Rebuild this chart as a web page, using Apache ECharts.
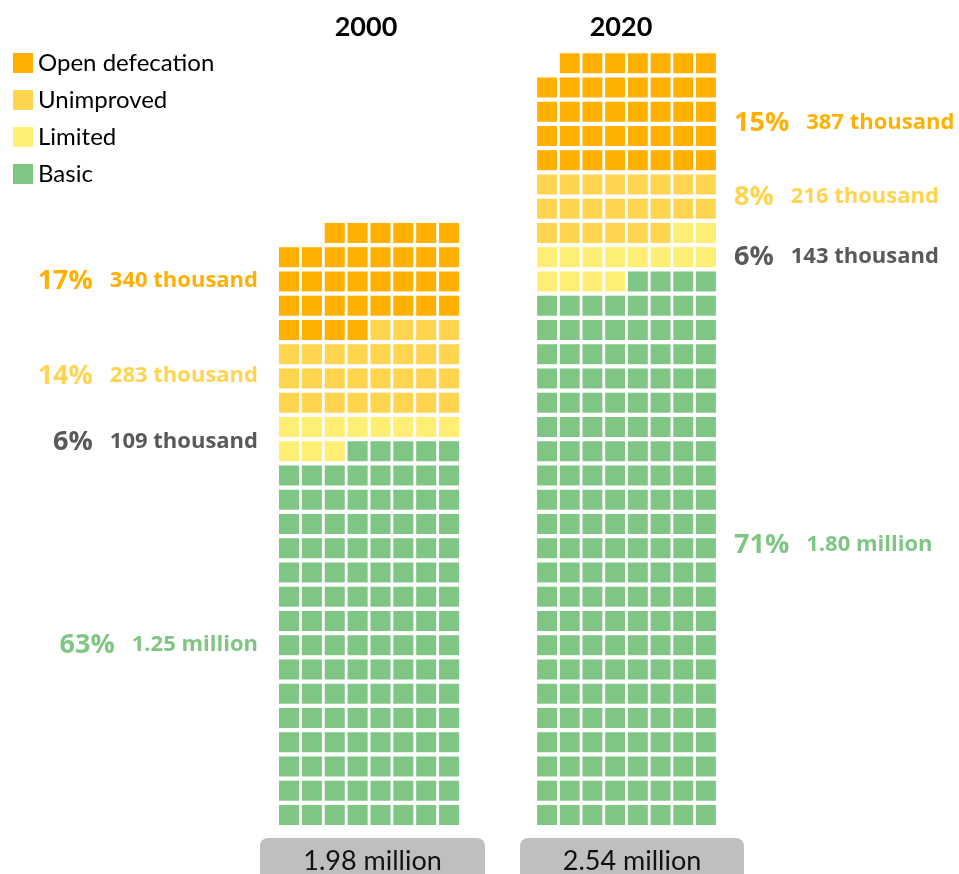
<!DOCTYPE html>
<html>
<head>
<meta charset="utf-8">
<title>Sanitation service levels, 2000 and 2020</title>
<script src="https://cdn.jsdelivr.net/npm/echarts@6/dist/echarts.min.js"></script>
<style>
  html, body { margin: 0; padding: 0; background: #ffffff; }
  #chart { width: 959px; height: 874px; }
</style>
</head>
<body>
<div id="chart"></div>
<script>
// Population by sanitation service level (thousands of people)
const years = ['2000', '2020'];
const categories = ['Basic', 'Limited', 'Unimproved', 'Open defecation'];
const basic = [1250, 1800];
const limited = [109, 143];
const unimproved = [283, 216];
const openDefecation = [340, 387];
// Share of population (%)
const basicPct = [63, 71];
const limitedPct = [6, 6];
const unimprovedPct = [14, 8];
const openDefecationPct = [17, 15];
// Total population labels
const totalLabels = ['1.98 million', '2.54 million'];

const PER_SQUARE = 10;      // thousand people per square
const COLS = 8;             // squares per row
const ROWS = 32;            // row capacity of the y scale

const colors = {
  'Basic': '#7FC685',
  'Limited': '#FFEE74',
  'Unimproved': '#FFD44F',
  'Open defecation': '#FFB000'
};
const labelColors = {
  'Basic': '#7FC685',
  'Limited': '#595959',
  'Unimproved': '#FFD44F',
  'Open defecation': '#FFB000'
};

const valuesByCat = {
  'Basic': basic,
  'Limited': limited,
  'Unimproved': unimproved,
  'Open defecation': openDefecation
};
const pctByCat = {
  'Basic': basicPct,
  'Limited': limitedPct,
  'Unimproved': unimprovedPct,
  'Open defecation': openDefecationPct
};

const FONT = 'Lato, "Open Sans", sans-serif';
const LABEL_FONT = '"Open Sans", Lato, sans-serif';

function formatValue(v) {
  return v >= 1000 ? (v / 1000).toFixed(2) + ' million' : v + ' thousand';
}

// Lay squares out bottom-up, each row filled from right to left
function buildCells(yearIdx) {
  const out = {};
  let i = 0;
  categories.forEach(function (cat) {
    const n = Math.round(valuesByCat[cat][yearIdx] / PER_SQUARE);
    out[cat] = [];
    for (let k = 0; k < n; k++, i++) {
      const row = Math.floor(i / COLS);
      const col = COLS - 1 - (i % COLS);
      out[cat].push([col, row]);
    }
  });
  return out;
}

const GAP_X = 2.8, GAP_Y = 4.25;
function renderSquare(params, api) {
  const c = api.coord([api.value(0) + 0.5, api.value(1) + 0.5]);
  const cell = api.size([1, 1]);
  const w = cell[0] - GAP_X, h = cell[1] - GAP_Y;
  return {
    type: 'rect',
    shape: { x: c[0] - w / 2, y: c[1] - h / 2, width: w, height: h },
    style: { fill: api.visual('color') }
  };
}

const grids = [
  { left: 277.6, top: 51.1, width: 182.9, height: 776 },
  { left: 535.7, top: 51.1, width: 181.6, height: 776 }
];

const series = [];
years.forEach(function (y, yi) {
  const cells = buildCells(yi);
  categories.forEach(function (cat) {
    series.push({
      type: 'custom',
      name: cat,
      xAxisIndex: yi,
      yAxisIndex: yi,
      itemStyle: { color: colors[cat] },
      renderItem: renderSquare,
      data: cells[cat],
      silent: true,
      animation: false
    });
  });
});

// Category annotations beside each column
const labelLayout = [
  { x: 258, align: 'right', y: { 'Open defecation': 281, 'Unimproved': 376, 'Limited': 442, 'Basic': 645 } },
  { x: 734, align: 'left',  y: { 'Open defecation': 123, 'Unimproved': 197, 'Limited': 257, 'Basic': 545 } }
];
const graphics = [];
years.forEach(function (yr, yi) {
  const lay = labelLayout[yi];
  categories.forEach(function (cat) {
    const col = labelColors[cat];
    graphics.push({
      type: 'text',
      x: lay.x,
      y: lay.y[cat],
      style: {
        text: '{p|' + pctByCat[cat][yi] + '%}{s|}{v|' + formatValue(valuesByCat[cat][yi]) + '}',
        align: lay.align,
        verticalAlign: 'middle',
        rich: {
          p: { fontFamily: LABEL_FONT, fontWeight: 'bold', fontSize: 27, fill: col, color: col },
          s: { width: 17 },
          v: { fontFamily: LABEL_FONT, fontWeight: 'bold', fontSize: 22, fill: col, color: col }
        }
      }
    });
  });
});

// Year headings
const headX = [366, 621];
years.forEach(function (yr, yi) {
  graphics.push({
    type: 'text',
    x: headX[yi],
    y: 27,
    style: {
      text: yr,
      align: 'center',
      verticalAlign: 'middle',
      font: 'bold 27px ' + FONT,
      fill: '#000000'
    }
  });
});

// Total population boxes
const boxes = [
  { x: 260, w: 225 },
  { x: 520, w: 224 }
];
years.forEach(function (yr, yi) {
  const b = boxes[yi];
  graphics.push({
    type: 'rect',
    shape: { x: b.x, y: 838, width: b.w, height: 50, r: 8 },
    style: { fill: '#BFBFBF' }
  });
  graphics.push({
    type: 'text',
    x: b.x + b.w / 2,
    y: 861,
    style: {
      text: totalLabels[yi],
      align: 'center',
      verticalAlign: 'middle',
      font: '27px ' + FONT,
      fill: '#111111'
    }
  });
});

const chart = echarts.init(document.getElementById('chart'), null, { renderer: 'canvas' });
chart.setOption({
  backgroundColor: '#ffffff',
  animation: false,
  legend: {
    orient: 'vertical',
    left: 13,
    top: 51,
    padding: 0,
    icon: 'rect',
    itemWidth: 20,
    itemHeight: 20,
    itemGap: 13,
    selectedMode: false,
    data: ['Open defecation', 'Unimproved', 'Limited', 'Basic'],
    textStyle: { fontFamily: FONT, fontSize: 24, color: '#000000' }
  },
  grid: grids,
  xAxis: grids.map(function (g, i) {
    return { type: 'value', gridIndex: i, min: 0, max: COLS, show: false };
  }),
  yAxis: grids.map(function (g, i) {
    return { type: 'value', gridIndex: i, min: 0, max: ROWS, show: false };
  }),
  series: series,
  graphic: graphics
});
</script>
</body>
</html>
